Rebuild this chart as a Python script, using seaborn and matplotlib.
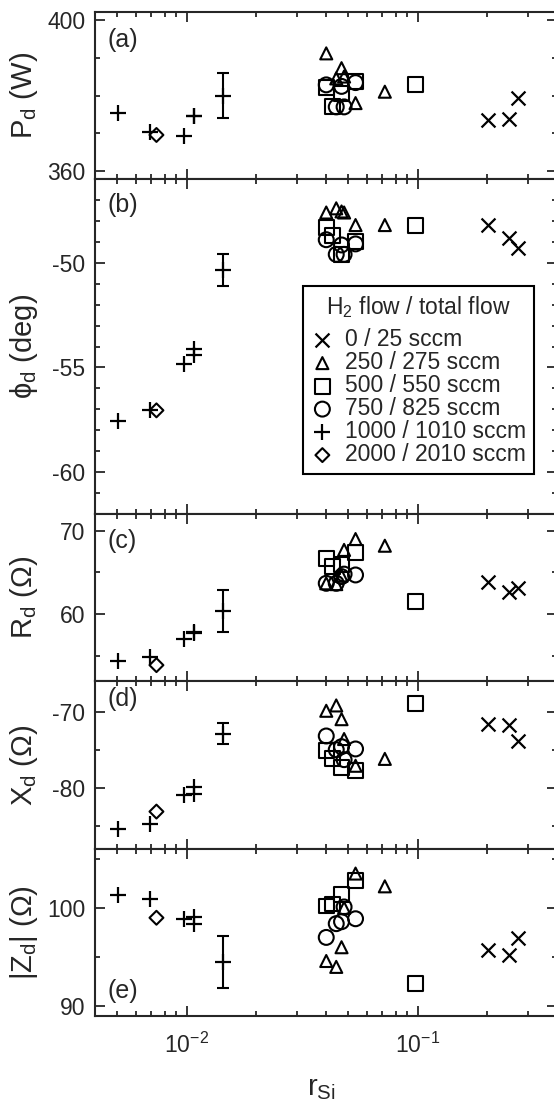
import numpy as np
import pandas as pd
import seaborn as sns
import matplotlib.pyplot as plt
from matplotlib.ticker import MultipleLocator, FixedLocator, LogLocator, NullFormatter

# r_Si and discharge quantities for every H2 flow
r_0 = [0.2004, 0.247, 0.272]
P_0 = [373.6, 373.9, 379.3]
phi_0 = [-48.2, -48.8, -49.3]
R_0 = [63.8, 62.7, 63.1]
X_0 = [-71.6, -71.8, -73.9]
Z_0 = [95.7, 95.2, 96.9]

r_250 = [0.0401, 0.0443, 0.0467, 0.0479, 0.0537, 0.0719]
P_250 = [391.1, 384.5, 387.2, 385.0, 378.0, 381.0]
phi_250 = [-47.6, -47.4, -47.55, -47.6, -48.2, -48.2]
R_250 = [63.7, 63.6, 64.6, 67.7, 69.0, 68.2]
X_250 = [-69.9, -69.2, -71.0, -73.6, -77.1, -76.2]
Z_250 = [94.6, 94.0, 96.0, 100.0, 103.5, 102.2]

r_500 = [0.0401, 0.0428, 0.0465, 0.0537, 0.0975]
P_500 = [382.0, 377.1, 380.6, 383.7, 382.8]
phi_500 = [-48.3, -48.7, -49.6, -49.0, -48.2]
R_500 = [66.7, 65.7, 65.9, 67.4, 61.5]
X_500 = [-75.1, -76.2, -77.3, -77.7, -69.0]
Z_500 = [100.2, 100.4, 101.4, 102.8, 92.3]

r_750 = [0.0401, 0.0443, 0.0467, 0.0479, 0.0537]
P_750 = [382.8, 377.0, 382.4, 377.0, 383.4]
phi_750 = [-48.9, -49.6, -49.15, -49.6, -49.1]
R_750 = [63.7, 63.7, 64.5, 64.8, 64.7]
X_750 = [-73.2, -75.0, -74.6, -76.3, -74.9]
Z_750 = [97.0, 98.4, 98.6, 100.1, 98.9]

r_1000 = [0.00502, 0.00689, 0.00968, 0.01068, 0.01068, 0.0143]
P_1000 = [375.3, 370.5, 369.4, 374.7, 374.7, 380.0]
phi_1000 = [-57.55, -57.05, -54.85, -54.1, -54.4, -50.35]
R_1000 = [54.4, 54.9, 57.05, 57.7, 57.9, 60.4]
X_1000 = [-85.4, -84.7, -80.9, -79.9, -80.8, -72.9]
Z_1000 = [101.3, 100.9, 98.9, 98.4, 99.1, 94.5]
# error bars (only the last + point has them)
eP_1000 = [0, 0, 0, 0, 0, 5.9]
ephi_1000 = [0, 0, 0, 0, 0, 0.75]
eR_1000 = [0, 0, 0, 0, 0, 2.5]
eX_1000 = [0, 0, 0, 0, 0, 1.4]
eZ_1000 = [0, 0, 0, 0, 0, 2.6]

r_2000 = [0.00738]
P_2000 = [369.6]
phi_2000 = [-57.05]
R_2000 = [53.9]
X_2000 = [-83.1]
Z_2000 = [99.0]

flows = ["0 / 25 sccm", "250 / 275 sccm", "500 / 550 sccm",
         "750 / 825 sccm", "1000 / 1010 sccm", "2000 / 2010 sccm"]

groups = [
    (r_0, P_0, phi_0, R_0, X_0, Z_0),
    (r_250, P_250, phi_250, R_250, X_250, Z_250),
    (r_500, P_500, phi_500, R_500, X_500, Z_500),
    (r_750, P_750, phi_750, R_750, X_750, Z_750),
    (r_1000, P_1000, phi_1000, R_1000, X_1000, Z_1000),
    (r_2000, P_2000, phi_2000, R_2000, X_2000, Z_2000),
]
rows = []
for name, g in zip(flows, groups):
    for i in range(len(g[0])):
        rows.append(dict(flow=name, r=g[0][i], P=g[1][i], phi=g[2][i],
                         R=g[3][i], X=g[4][i], Z=g[5][i]))
df = pd.DataFrame(rows)

err = pd.DataFrame(dict(r=r_1000, P=eP_1000, phi=ephi_1000, R=eR_1000,
                        X=eX_1000, Z=eZ_1000))
mid = pd.DataFrame(dict(r=r_1000, P=P_1000, phi=phi_1000, R=R_1000,
                        X=X_1000, Z=Z_1000))

sns.set_style("ticks")
plt.rcParams['font.family'] = ['Liberation Sans', 'DejaVu Sans']
plt.rcParams['mathtext.fontset'] = 'custom'
plt.rcParams['mathtext.rm'] = 'Liberation Sans'
plt.rcParams['mathtext.it'] = 'Liberation Sans:italic'
plt.rcParams['axes.linewidth'] = 1.5
plt.rcParams['axes.unicode_minus'] = False

W, H = 554, 1105
fig = plt.figure(figsize=(W / 100, H / 100), dpi=100)

# panel edges in pixels (top, bottom)
edges = [(12, 179), (179, 514), (514, 681), (681, 849), (849, 1016)]
left_px, right_px = 95, 557

cols = ["P", "phi", "R", "X", "Z"]
ylabels = ["P$_\\mathrm{d}$ (W)", "\u03d5$_\\mathrm{d}$ (deg)", "R$_\\mathrm{d}$ (\u03a9)",
           "X$_\\mathrm{d}$ (\u03a9)", "|Z$_\\mathrm{d}$| (\u03a9)"]
ylims = [(358, 402), (-62, -46), (52, 72), (-88, -66), (89, 106)]
majors = [[360, 400], [-60, -55, -50], [60, 70], [-80, -70], [90, 100]]
minors = [10, 1, 5, 5, 5]
tags = ["(a)", "(b)", "(c)", "(d)", "(e)"]
tag_y = [0.832, 0.922, 0.838, 0.893, 0.150]

markers = ["x", "^", "s", "o", "+", "D"]
msize = [100, 75, 115, 115, 140, 50]

axes = []
for k, (top, bot) in enumerate(edges):
    ax = fig.add_axes([left_px / W, 1 - bot / H, (right_px - left_px) / W, (bot - top) / H])
    axes.append(ax)
    col = cols[k]
    for name, m, s in zip(flows, markers, msize):
        sub = df[df.flow == name]
        if m in ("x", "+"):
            sns.scatterplot(data=sub, x="r", y=col, marker=m, s=s, color="k",
                            linewidth=1.6, ax=ax, label=name if k == 1 else None,
                            legend=False, zorder=3)
        else:
            sns.scatterplot(data=sub, x="r", y=col, marker=m, s=s, color="k",
                            facecolors="none", edgecolor="k", linewidth=1.5,
                            ax=ax, label=name if k == 1 else None, legend=False,
                            zorder=3)
    sel = err[col] > 0
    ax.errorbar(mid.r[sel], mid[col][sel], yerr=err[col][sel], fmt="none",
                ecolor="k", elinewidth=1.5, capsize=4, capthick=1.5)

    ax.set_xscale("log")
    ax.set_xlim(0.004, 0.4)
    ax.set_ylim(*ylims[k])
    ax.yaxis.set_major_locator(FixedLocator(majors[k]))
    ax.yaxis.set_minor_locator(MultipleLocator(minors[k]))
    ax.xaxis.set_major_locator(LogLocator(base=10))
    ax.xaxis.set_minor_locator(LogLocator(base=10, subs=np.arange(2, 10)))
    ax.xaxis.set_minor_formatter(NullFormatter())
    ax.tick_params(which="both", direction="in", top=True, right=True,
                   width=1.3, labelsize=16.5, pad=7)
    ax.tick_params(which="major", length=7)
    ax.tick_params(which="minor", length=3.5)
    ax.tick_params(axis="x", pad=12)
    if k < 4:
        ax.tick_params(axis="x", labelbottom=False)
        ax.set_xlabel("")
    else:
        ax.set_xlabel("r$_\\mathrm{Si}$", fontsize=21)
        ax.xaxis.set_label_coords(0.49, -0.35)
    ax.set_ylabel(ylabels[k], fontsize=21)
    ax.yaxis.set_label_coords(-0.118, 0.5)
    ax.text(0.028, tag_y[k], tags[k], transform=ax.transAxes, fontsize=18,
            ha="left", va="center")

leg = axes[1].legend(title="H$_2$ flow / total flow", loc="upper left",
                     bbox_to_anchor=(0.450, 0.681), borderaxespad=0,
                     fontsize=16.5, title_fontsize=16.5, frameon=True,
                     fancybox=False, edgecolor="k", framealpha=1,
                     handletextpad=0.5, labelspacing=0.0, handlelength=1.0,
                     borderpad=0.35)
leg.get_frame().set_linewidth(1.5)
leg._legend_box.sep = 6

fig.savefig("out.png", dpi=100)
